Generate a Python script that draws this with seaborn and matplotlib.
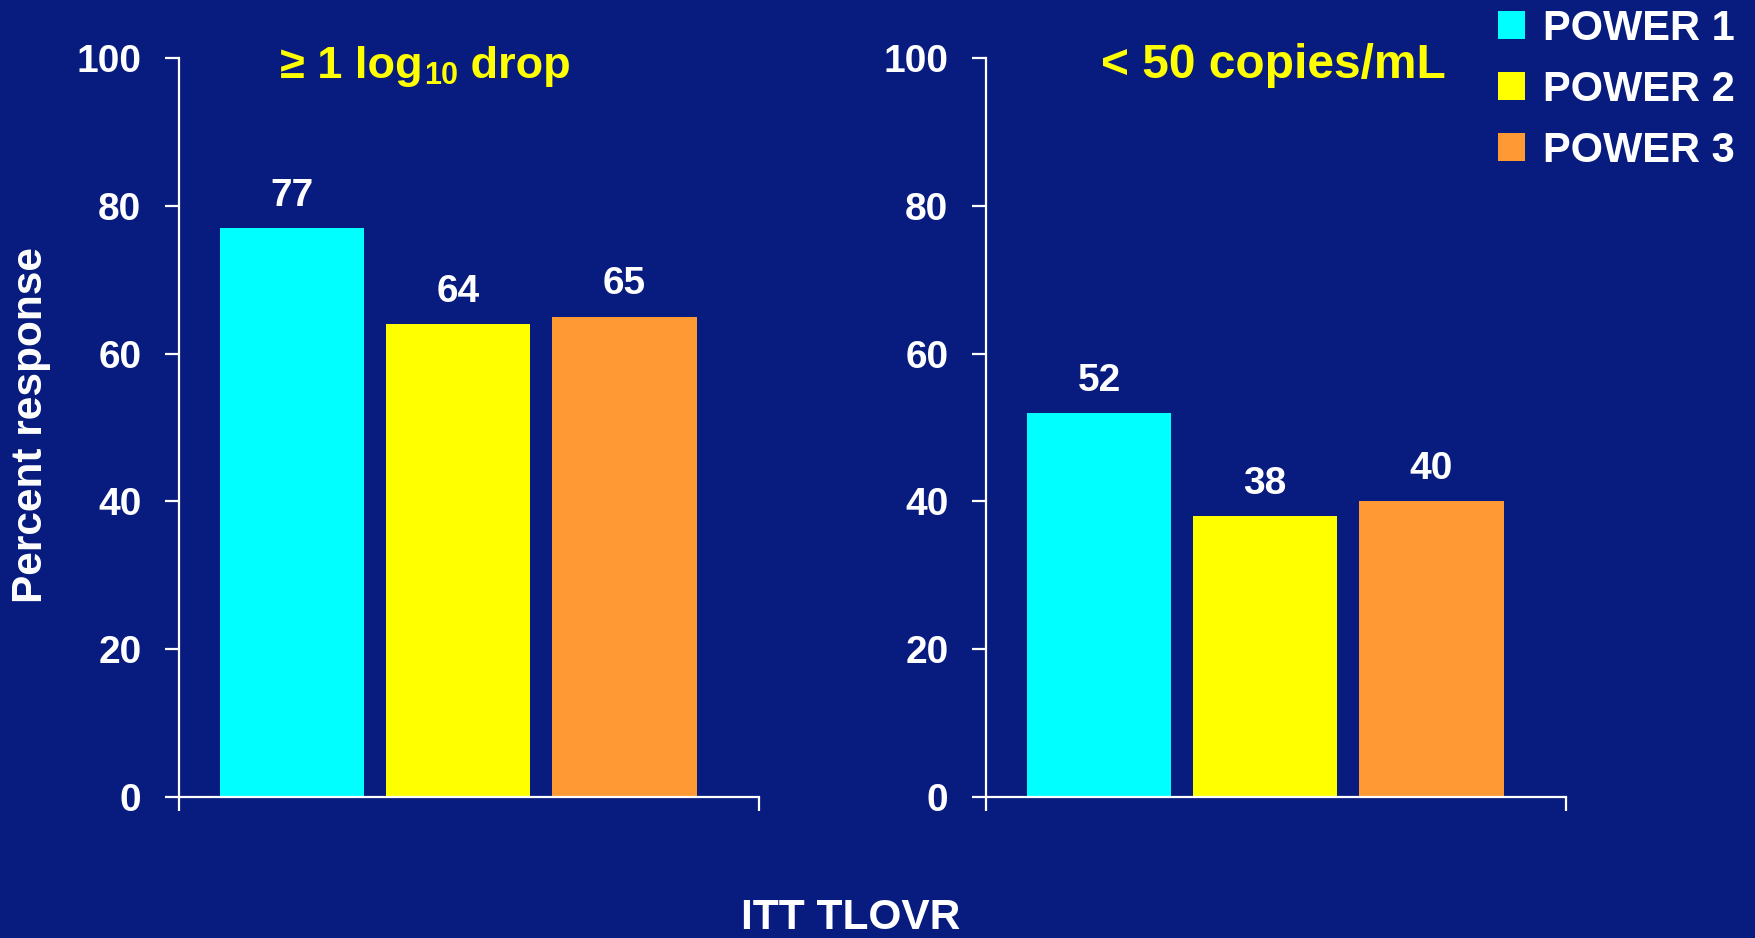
import matplotlib
matplotlib.use("Agg")
import matplotlib.pyplot as plt
from matplotlib.patches import Patch
import seaborn as sns
import pandas as pd

# Trial series and response rates (%)
trials = ["POWER 1", "POWER 2", "POWER 3"]
log_drop = [77, 64, 65]
below_50 = [52, 38, 40]
right_title = "< 50 copies/mL"
yticks = [0, 20, 40, 60, 80, 100]

bg = "#081C80"
palette = ["#00FFFF", "#FFFF00", "#FF9933"]
title_color = "#FFFF00"

sns.set_theme(style="white")
plt.rcParams["font.family"] = ["Liberation Sans", "DejaVu Sans"]
plt.rcParams["font.weight"] = "bold"

fig = plt.figure(figsize=(17.56, 9.38), dpi=100, facecolor=bg)
ax_w, ax_h = 580 / 1756, 739 / 938
ax_bottom = 1 - 797 / 938
axes = [fig.add_axes([179 / 1756, ax_bottom, ax_w, ax_h]),
        fig.add_axes([986 / 1756, ax_bottom, ax_w, ax_h])]

panels = [log_drop, below_50]
xlim = (-0.68, 2.81)

for ax, vals in zip(axes, panels):
    df = pd.DataFrame({"trial": trials, "pct": vals})
    sns.barplot(data=df, x="trial", y="pct", hue="trial", palette=palette,
                width=0.87, saturation=1, legend=False, linewidth=0,
                edgecolor="none", ax=ax)
    ax.set_facecolor(bg)
    ax.set_xlim(*xlim)
    ax.set_ylim(0, 100)
    ax.set_yticks(yticks)
    ax.set_xticks(list(xlim))
    ax.set_xticklabels([])
    ax.set_xlabel("")
    ax.set_ylabel("")
    for side in ("top", "right"):
        ax.spines[side].set_visible(False)
    for side in ("left", "bottom"):
        ax.spines[side].set_color("white")
        ax.spines[side].set_linewidth(1.6)
    ax.tick_params(axis="y", colors="white", length=10, width=1.6, pad=17,
                   labelsize=28, direction="out", left=True)
    ax.tick_params(axis="x", colors="white", length=10, width=1.6,
                   direction="out", bottom=True)
    for lab in ax.get_yticklabels():
        lab.set_fontweight("bold")
    for patch, v in zip(ax.patches, vals):
        cx = patch.get_x() + patch.get_width() / 2
        ax.text(cx, v + 3.0, f"{v}", ha="center", va="baseline", color="white",
                fontsize=28, fontweight="bold")

# Panel titles: left one is built from pieces to get the log10 subscript
title_y = 1 - (78 - 58) / 739
t1 = axes[0].text(0.174, title_y, "\u2265 1 log", transform=axes[0].transAxes,
                  ha="left", va="baseline", color=title_color, fontsize=32.5,
                  fontweight="bold")
t2 = axes[0].annotate("10", xy=(1, 0), xycoords=t1, xytext=(1, -3),
                      textcoords="offset points", ha="left", va="bottom",
                      color=title_color, fontsize=22, fontweight="bold")
t3 = axes[0].annotate(" drop", xy=(1, 0), xycoords=t2, xytext=(0, 3.3),
                      textcoords="offset points", ha="left", va="bottom",
                      color=title_color, fontsize=32.5, fontweight="bold")
axes[1].text(0.495, title_y, right_title, transform=axes[1].transAxes,
             ha="center", va="baseline", color=title_color, fontsize=34.5,
             fontweight="bold")

fig.text(31 / 1756, 1 - 425 / 938, "Percent response", rotation=90,
         ha="center", va="center", color="white", fontsize=30.5,
         fontweight="bold")
fig.text(851 / 1756, 1 - 929 / 938, "ITT TLOVR", ha="center", va="baseline",
         color="white", fontsize=30.5, fontweight="bold")

handles = [Patch(facecolor=c, edgecolor="none") for c in palette]
leg = fig.legend(handles, trials, loc="upper left",
                 bbox_to_anchor=(1498 / 1756, 1 - 9 / 938),
                 frameon=False, fontsize=30, handlelength=0.65,
                 handleheight=0.65, handletextpad=0.43, labelspacing=0.5,
                 borderpad=0, borderaxespad=0)
for txt in leg.get_texts():
    txt.set_color("white")
    txt.set_fontweight("bold")

fig.savefig("out.png", dpi=100, facecolor=bg)
